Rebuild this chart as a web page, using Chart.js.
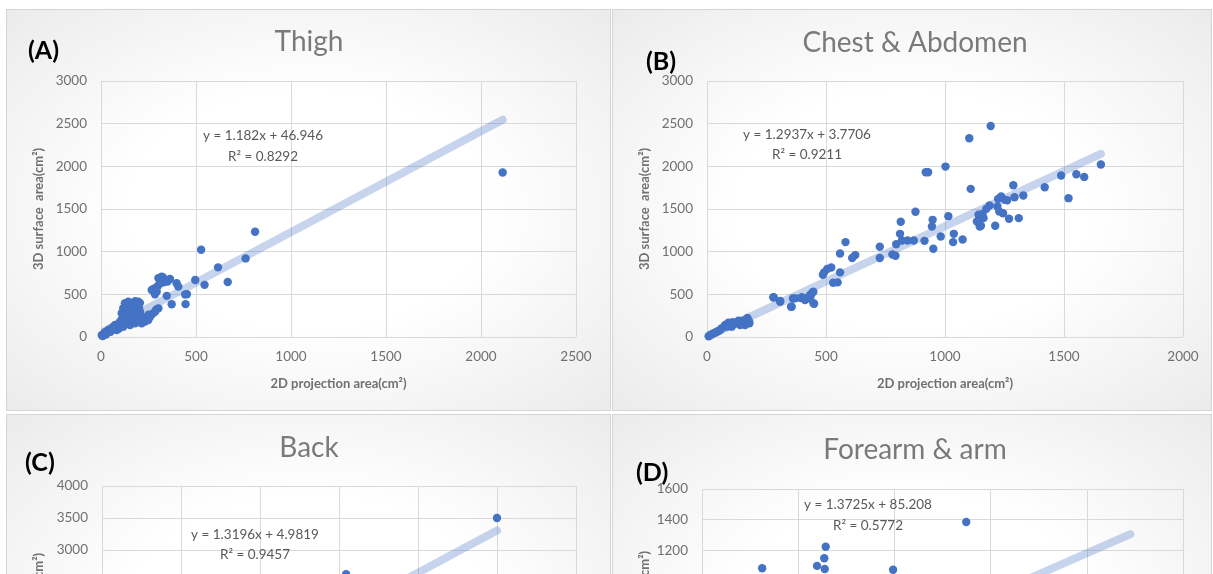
<!DOCTYPE html>
<html>
<head>
<meta charset="utf-8">
<script src="https://cdn.jsdelivr.net/npm/chart.js@4.4.1/dist/chart.umd.min.js"></script>
<style>
  html, body { margin: 0; padding: 0; background: #ffffff; width: 1213px; height: 574px; overflow: hidden; }
  .panel {
    position: absolute;
    border: 1px solid #d4d4d4;
    background: radial-gradient(ellipse at 50% 50%, #ffffff 0%, #ffffff 42%, #ebebeb 100%);
    overflow: hidden;
  }
  .panel canvas { position: absolute; left: 0; top: 0; }
</style>
</head>
<body>
<div class="panel" style="left:6px;top:9px;width:603px;height:400px"><canvas id="thigh" width="603" height="400"></canvas></div>
<div class="panel" style="left:612px;top:9px;width:598px;height:400px"><canvas id="chest" width="598" height="400"></canvas></div>
<div class="panel" style="left:6px;top:414px;width:603px;height:400px"><canvas id="back" width="603" height="400"></canvas></div>
<div class="panel" style="left:612px;top:414px;width:598px;height:400px"><canvas id="arm" width="598" height="400"></canvas></div>

<script>
// ---- Thigh: 2D projection area vs 3D surface area (cm²)
const thighX = [2114, 811, 761, 616, 527, 667, 545, 496, 452, 445, 372, 346, 443, 407, 398,
  363, 319, 302, 337, 311, 284, 267, 293, 284, 300, 330, 350, 325, 310, 275, 290,
  302, 284, 258, 232, 270, 245, 215, 225, 250, 290,
  196, 179, 144, 126, 117, 109, 153, 188, 214, 170, 135, 179, 100, 160, 140, 175, 200, 130, 150, 165, 195, 120, 205, 185, 140, 110, 160, 200, 130, 205, 180,
  74, 56, 38, 21, 4, 83, 117, 153, 214, 249, 90, 65, 45, 30, 12, 8, 60, 100, 80, 95, 50, 25];
const thighY = [1927, 1233, 921, 816, 1022, 645, 611, 668, 502, 385, 383, 482, 499, 590, 630,
  680, 707, 690, 668, 630, 571, 551, 531, 500, 600, 640, 650, 700, 660, 560, 560,
  336, 297, 238, 180, 270, 220, 200, 230, 260, 320,
  414, 375, 414, 395, 336, 278, 278, 278, 238, 250, 199, 160, 180, 330, 350, 310, 340, 300, 230, 200, 250, 240, 300, 220, 260, 210, 170, 190, 160, 400, 420,
  141, 102, 82, 55, 23, 82, 121, 141, 160, 199, 150, 120, 70, 40, 20, 10, 90, 130, 110, 100, 60, 30];

// ---- Chest & Abdomen
const chestX = [1655, 1585, 1552, 1488, 1519, 1419, 1329, 1310, 1292, 1287, 1269, 1261, 1252, 1236, 1223, 1220, 1228, 1244,
  1211, 1187, 1174, 1162, 1151, 1141, 1144, 1146, 1158, 1134, 1192, 1102, 1108, 1002, 929, 919, 1014, 1037, 1034,
  982, 1074, 948, 945, 951, 914, 876, 869, 843, 819, 814, 811, 795, 792, 779, 726, 726, 623, 610, 582, 559, 559,
  549, 530, 522, 505, 492, 487, 450, 443, 435, 419, 394, 361, 353, 308, 280,
  279, 307, 356, 370, 398, 412, 433, 447, 447, 426,
  13, 34, 55, 76, 90, 104, 125, 146, 167, 178, 160, 139, 111, 62, 41, 27, 83, 170, 177, 157, 132, 108, 7, 20, 48, 95, 150, 165];
const chestY = [2021, 1876, 1908, 1892, 1627, 1755, 1658, 1393, 1638, 1779, 1385, 1603, 1607, 1646, 1619, 1529, 1471, 1451,
  1303, 1541, 1502, 1393, 1303, 1432, 1373, 1295, 1443, 1354, 2473, 2329, 1736, 1997, 1931, 1931, 1416, 1209, 1112,
  1178, 1143, 1373, 1295, 1034, 1127, 1467, 1131, 1131, 1131, 1350, 1209, 1088, 952, 967, 1057, 925, 960, 925, 1112, 979, 757,
  640, 636, 815, 796, 757, 729, 390, 523, 476, 456, 456, 452, 355, 421, 464,
  465, 414, 355, 453, 465, 434, 492, 531, 395, 453,
  23, 50, 82, 141, 168, 121, 160, 180, 207, 160, 141, 141, 160, 102, 62, 43, 121, 222, 183, 172, 191, 172, 8, 30, 70, 130, 190, 175];

// ---- Back
const backX = [2500, 1545];
const backY = [3500, 2620];

// ---- Forearm & arm
const armX = [125, 239, 254, 257, 255, 397, 549];
const armY = [1085, 1100, 1150, 1224, 1080, 1075, 1385];

// Linear trend lines: [slope, intercept], drawn across [xStart, xEnd]
const thighFit = [1.182, 46.946];   const thighSpan = [0, 2114];
const chestFit = [1.2937, 3.7706];  const chestSpan = [7, 1655];
const backFit  = [1.3196, 4.9819];  const backSpan  = [0, 2500];
const armFit   = [1.3725, 85.208];  const armSpan   = [0, 890];

// Equation labels
const thighEq = ['y = 1.182x + 46.946', 'R² = 0.8292'];
const chestEq = ['y = 1.2937x + 3.7706', 'R² = 0.9211'];
const backEq  = ['y = 1.3196x + 4.9819', 'R² = 0.9457'];
const armEq   = ['y = 1.3725x + 85.208', 'R² = 0.5772'];

// Axis ranges: [min, max, step]
const thighXAxis = [0, 2500, 500]; const thighYAxis = [0, 3000, 500];
const chestXAxis = [0, 2000, 500]; const chestYAxis = [0, 3000, 500];
const backXAxis  = [0, 3000, 500]; const backYAxis  = [0, 4000, 500];
const armXAxis   = [0, 1000, 200]; const armYAxis   = [0, 1600, 200];

const xTitle = '2D projection area(cm²)';
const yTitle = '3D surface  area(cm²)';

const POINT = '#4472C4';
const TREND = 'rgba(68,114,196,0.30)';
const GRID = '#d9d9d9';
const TICK = '#707070';
const FONT = 'Lato';

// Chart title, panel letter and trend equation text
const notes = {
  id: 'notes',
  afterDatasetsDraw(chart, args, o) {
    const ctx = chart.ctx;
    ctx.save();
    ctx.textBaseline = 'middle';
    ctx.textAlign = 'center';
    ctx.fillStyle = '#7a7a7a';
    ctx.font = '28px ' + FONT;
    ctx.fillText(o.title, o.titleX, o.titleY);
    ctx.fillStyle = '#595959';
    ctx.font = '13.5px ' + FONT;
    o.eq.forEach((t, i) => ctx.fillText(t, o.eqX, o.eqY + i * o.eqGap));
    ctx.fillStyle = '#000000';
    ctx.font = 'bold 25px ' + FONT;
    ctx.textAlign = 'left';
    ctx.fillText(o.letter, o.letterX, o.letterY);
    ctx.restore();
  }
};

function panel(id, p) {
  const pts = p.x.map((v, i) => ({ x: v, y: p.y[i] }));
  const line = p.span.map(x => ({ x: x, y: p.fit[0] * x + p.fit[1] }));
  const tickFont = { family: FONT, size: 13.5 };
  const titleFont = { family: FONT, size: 13, weight: 'bold' };
  new Chart(document.getElementById(id), {
    type: 'scatter',
    data: {
      datasets: [
        { type: 'line', data: line, borderColor: TREND, borderWidth: 8, borderCapStyle: 'round',
          pointRadius: 0, fill: false, order: 2 },
        { data: pts, backgroundColor: POINT, borderWidth: 0, pointRadius: 4.2, clip: false, order: 1 }
      ]
    },
    options: {
      responsive: false,
      animation: false,
      devicePixelRatio: 1,
      layout: { padding: { left: 0, right: p.padRight, top: p.top, bottom: 0 } },
      plugins: {
        legend: { display: false },
        tooltip: { enabled: false },
        title: { display: false },
        notes: { title: p.title, titleX: 302, titleY: p.titleY,
                 letter: p.letter, letterX: p.letterX, letterY: p.letterY,
                 eq: p.eq, eqX: p.eqX, eqY: p.eqY, eqGap: p.eqGap }
      },
      scales: {
        x: {
          type: 'linear', min: p.xAxis[0], max: p.xAxis[1],
          ticks: { stepSize: p.xAxis[2], color: TICK, font: tickFont, padding: 12,
                   maxRotation: 0, callback: v => String(v) },
          grid: { color: GRID, drawTicks: false },
          border: { display: false },
          title: { display: true, text: xTitle, color: TICK, font: titleFont, padding: { top: 0, bottom: 18 } },
          afterFit(s) { s.height = p.xH; }
        },
        y: {
          type: 'linear', min: p.yAxis[0], max: p.yAxis[1],
          ticks: { stepSize: p.yAxis[2], color: TICK, font: tickFont, padding: 14,
                   callback: v => String(v) },
          grid: { color: GRID, drawTicks: false },
          border: { display: false },
          title: { display: true, text: yTitle, color: TICK, font: titleFont, padding: { top: 24, bottom: 0 } },
          afterFit(s) { s.width = p.yW; }
        }
      }
    },
    plugins: [notes]
  });
}

panel('thigh', { title: 'Thigh', x: thighX, y: thighY, fit: thighFit, span: thighSpan,
  xAxis: thighXAxis, yAxis: thighYAxis, padRight: 34, top: 71, titleY: 32, yW: 94, xH: 73,
  letter: '(A)', letterX: 21, letterY: 41, eq: thighEq, eqX: 256, eqY: 126, eqGap: 21 });

panel('chest', { title: 'Chest & Abdomen', x: chestX, y: chestY, fit: chestFit, span: chestSpan,
  xAxis: chestXAxis, yAxis: chestYAxis, padRight: 28, top: 71, titleY: 33, yW: 94, xH: 73,
  letter: '(B)', letterX: 33, letterY: 52, eq: chestEq, eqX: 194, eqY: 125, eqGap: 20 });

panel('back', { title: 'Back', x: backX, y: backY, fit: backFit, span: backSpan,
  xAxis: backXAxis, yAxis: backYAxis, padRight: 34, top: 71, titleY: 33, yW: 95, xH: 73,
  letter: '(C)', letterX: 18, letterY: 48, eq: backEq, eqX: 248, eqY: 120, eqGap: 20 });

panel('arm', { title: 'Forearm & arm', x: armX, y: armY, fit: armFit, span: armSpan,
  xAxis: armXAxis, yAxis: armYAxis, padRight: 26, top: 74, titleY: 35, yW: 89, xH: 80,
  letter: '(D)', letterX: 23, letterY: 58, eq: armEq, eqX: 255, eqY: 90, eqGap: 21 });
</script>
</body>
</html>
